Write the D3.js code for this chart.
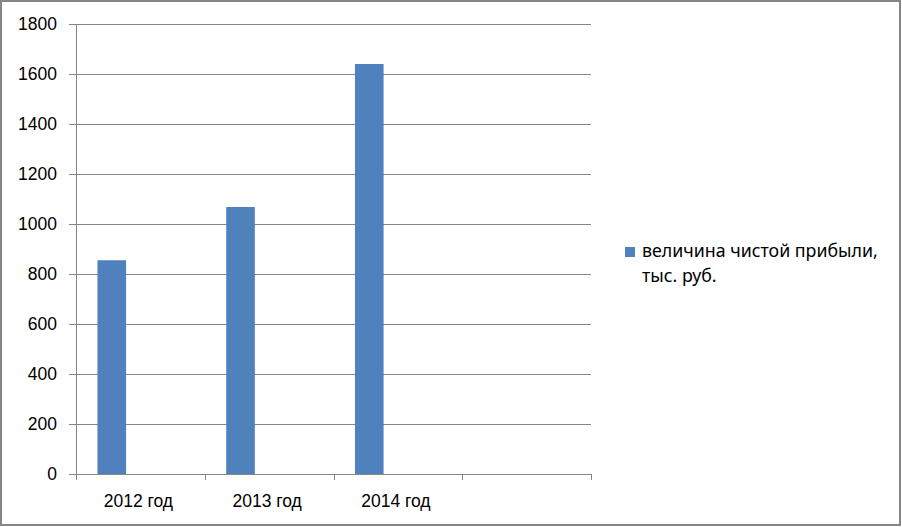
<!DOCTYPE html>
<html><head><meta charset="utf-8">
<script src="https://cdn.jsdelivr.net/npm/d3@7"></script>
<style>
html,body{margin:0;padding:0;background:#fff;}
svg{display:block;font-family:"Liberation Sans",Arial,sans-serif;}
</style></head>
<body>
<script>
const categories = ["2012 год", "2013 год", "2014 год", ""];
const seriesNames = ["величина чистой прибыли, тыс. руб.", "s2", "s3"];
const profitValues = [855, 1068, 1640, null];
const yTicks = [0, 200, 400, 600, 800, 1000, 1200, 1400, 1600, 1800];
const legendLines = ["величина чистой прибыли,", "тыс. руб."];

const W = 902, H = 527;
const svg = d3.select("body").append("svg").attr("width", W).attr("height", H);

svg.append("rect").attr("x", 1).attr("y", 1).attr("width", W - 3).attr("height", H - 3)
  .attr("fill", "#fff").attr("stroke", "#868686").attr("stroke-width", 2);

const pLeft = 76, pRight = 591, pTop = 24, pBottom = 474;
const x = d3.scaleBand().domain(d3.range(categories.length)).range([pLeft, pRight]).padding(0);
const x1 = d3.scaleBand().domain(d3.range(seriesNames.length)).range([0, x.bandwidth()]).paddingInner(0).paddingOuter(0.75);
const y = d3.scaleLinear().domain([0, 1800]).range([pBottom, pTop]);

const grey = "#868686";
svg.append("g").selectAll("line").data(yTicks).join("line")
  .attr("x1", pLeft - 7).attr("x2", pRight)
  .attr("y1", d => Math.round(y(d)) + 0.5).attr("y2", d => Math.round(y(d)) + 0.5)
  .attr("stroke", grey).attr("stroke-width", 1);

svg.append("line").attr("x1", pLeft + 0.5).attr("x2", pLeft + 0.5).attr("y1", pTop).attr("y2", pBottom + 6)
  .attr("stroke", grey);

const xTickPos = d3.range(categories.length + 1).map(i => i < categories.length ? x(i) : x(categories.length - 1) + x.bandwidth());
svg.append("g").selectAll("line").data(xTickPos).join("line")
  .attr("x1", d => Math.round(d) + 0.5).attr("x2", d => Math.round(d) + 0.5)
  .attr("y1", pBottom).attr("y2", pBottom + 6).attr("stroke", grey);

svg.append("g").selectAll("rect").data(profitValues.map((v, i) => ({v, i})).filter(d => d.v != null)).join("rect")
  .attr("x", d => x(d.i) + x1(0))
  .attr("width", x1.bandwidth())
  .attr("y", d => y(d.v))
  .attr("height", d => y(0) - y(d.v))
  .attr("fill", "#4f81bd");

svg.append("g").selectAll("text").data(yTicks).join("text")
  .attr("x", 57).attr("y", d => y(d)).attr("dy", "0.36em")
  .attr("text-anchor", "end").attr("font-size", 17.5).attr("fill", "#000")
  .text(d => d);

svg.append("g").selectAll("text").data(categories).join("text")
  .attr("x", (d, i) => x(i) + x.bandwidth() / 2 - 2).attr("y", 507)
  .attr("text-anchor", "middle").attr("font-size", 17.5).attr("fill", "#000")
  .text(d => d);

svg.append("rect").attr("x", 625).attr("y", 247).attr("width", 10).attr("height", 10).attr("fill", "#4f81bd");
svg.append("g").selectAll("text").data(legendLines).join("text")
  .attr("x", 642).attr("y", (d, i) => 257 + i * 25)
  .attr("font-size", 17.8).attr("fill", "#000")
  .style("font-family", "'Noto Sans', 'Open Sans', sans-serif")
  .text(d => d);
</script>
</body></html>
